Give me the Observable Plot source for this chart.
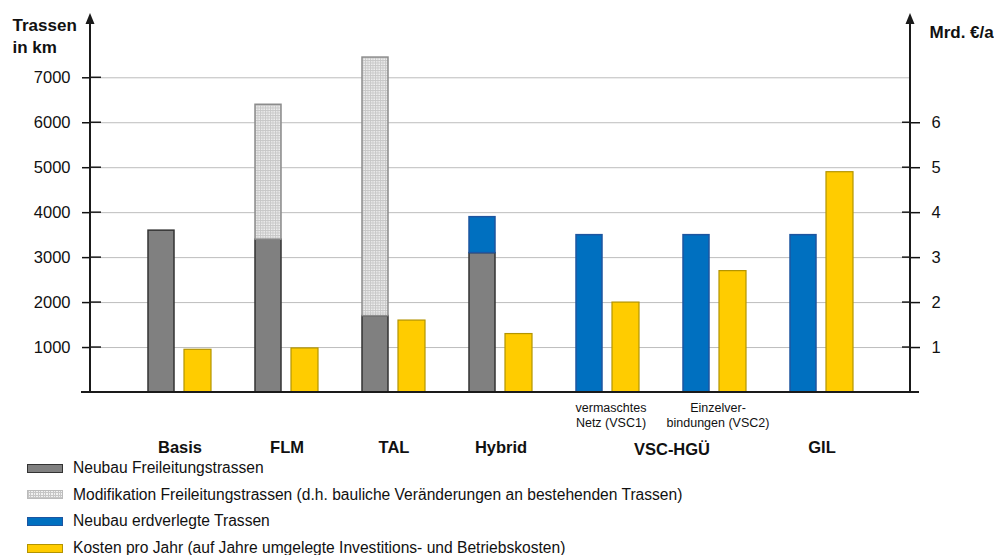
<!DOCTYPE html>
<html>
<head>
<meta charset="utf-8">
<script src="https://cdn.jsdelivr.net/npm/d3@7"></script>
<script src="https://cdn.jsdelivr.net/npm/@observablehq/plot@0.6"></script>
<style>
  html, body { margin: 0; padding: 0; background: #fff; }
  body { width: 994px; height: 555px; overflow: hidden; font-family: "Liberation Sans", Arial, sans-serif; color: #111; }
  #legend { margin-top: -1px; }
  .row { height: 26.6px; display: flex; align-items: center; font-size: 15.6px; }
  .sw { width: 34px; height: 7px; margin-left: 27px; margin-right: 10px; border: 1px solid #444; }
</style>
</head>
<body>
<div id="chart"></div>
<div id="legend"></div>
<script>
// ---- data ----
const groups = ["Basis", "FLM", "TAL", "Hybrid", "VSC1", "VSC2", "GIL"];
const neubauFrei = [3600, 3400, 1700, 3100, 0, 0, 0];        // km
const modifikation = [0, 3000, 5750, 0, 0, 0, 0];             // km
const neubauErd = [0, 0, 0, 800, 3500, 3500, 3500];           // km
const kosten = [0.95, 0.98, 1.6, 1.3, 2.0, 2.7, 4.9];         // Mrd. €/a
const leftTicks = [1000, 2000, 3000, 4000, 5000, 6000, 7000];
const rightTicks = [1, 2, 3, 4, 5, 6];
const mainLabels = ["Basis", "FLM", "TAL", "Hybrid", "GIL"];
const vscLabel = "VSC-HGÜ";
const subLabels = [
  {group: "VSC1", text: "vermaschtes\nNetz (VSC1)"},
  {group: "VSC2", text: "Einzelver-\nbindungen (VSC2)"}
];
const seriesNames = [
  "Neubau Freileitungstrassen",
  "Modifikation Freileitungstrassen (d.h. bauliche Veränderungen an bestehenden Trassen)",
  "Neubau erdverlegte Trassen",
  "Kosten pro Jahr (auf Jahre umgelegte Investitions- und Betriebskosten)"
];
const yTitle = "Trassen\nin km";
const y2Title = "Mrd. €/a";

// ---- styles ----
const fills = ["#808080", "url(#modGrid)", "#0070C0", "#FFCC00"];
const strokes = ["#333333", "#8c8c8c", "#1d55a0", "#b39400"];

// ---- tables built from the arrays ----
const kmSeries = [neubauFrei, modifikation, neubauErd];
const kmRows = [];
groups.forEach((g, i) => {
  kmSeries.forEach((arr, s) => {
    if (arr[i] > 0) kmRows.push({group: g, series: s, km: arr[i]});
  });
});
const costRows = groups.map((g, i) => ({group: g, cost: kosten[i]}));
const yMax = 8430;

function decor(index, scales, values, dims) {
  const y = scales.y;
  const xl = dims.marginLeft, xr = dims.width - dims.marginRight;
  const y0 = y(0), yTop = y(yMax);
  const g = d3.create("svg:g");
  const defs = g.append("defs");
  const p = defs.append("pattern").attr("id", "modGrid").attr("width", 2.5).attr("height", 2.5)
    .attr("patternUnits", "userSpaceOnUse");
  p.append("rect").attr("width", 2.5).attr("height", 2.5).attr("fill", "#f1f1f1");
  p.append("path").attr("d", "M0 0.5H2.5M0.5 0V2.5").attr("stroke", "#c6c6c6").attr("stroke-width", 0.9);
  const ink = "#1a1a1a";
  // baseline
  g.append("line").attr("x1", xl - 9).attr("x2", xr + 9).attr("y1", y0).attr("y2", y0)
    .attr("stroke", ink).attr("stroke-width", 2);
  // inner tick stubs
  for (const t of leftTicks) {
    g.append("line").attr("x1", xl).attr("x2", xl + 11).attr("y1", y(t)).attr("y2", y(t))
      .attr("stroke", ink).attr("stroke-width", 1.5);
  }
  for (const t of rightTicks) {
    g.append("line").attr("x1", xr - 8).attr("x2", xr).attr("y1", y(t * 1000)).attr("y2", y(t * 1000))
      .attr("stroke", ink).attr("stroke-width", 1.5);
  }
  // axis lines with arrows
  for (const x of [xl, xr]) {
    g.append("line").attr("x1", x).attr("x2", x).attr("y1", y0 + 1).attr("y2", yTop + 10)
      .attr("stroke", ink).attr("stroke-width", 2);
    g.append("path").attr("d", `M${x},${yTop}L${x - 4.5},${yTop + 11}L${x + 4.5},${yTop + 11}Z`).attr("fill", ink);
  }
  return g.node();
}

const chart = Plot.plot({
  width: 994,
  height: 456,
  marginLeft: 90,
  marginRight: 84,
  marginTop: 13,
  marginBottom: 64,
  style: {fontFamily: "'Liberation Sans', Arial, sans-serif", fontSize: "16.5px", color: "#111", background: "#fff"},
  x: {type: "band", domain: groups, paddingInner: 0, paddingOuter: 0.3, axis: null},
  y: {domain: [0, yMax]},
  color: {type: "identity"},
  marks: [
    Plot.gridY(leftTicks, {stroke: "#bdbdbd", strokeOpacity: 1, strokeWidth: 1}),
    Plot.barY(kmRows, Plot.stackY({
      x: "group", y: "km",
      fill: d => fills[d.series], stroke: d => strokes[d.series], strokeWidth: 1.5,
      insetLeft: 22, insetRight: 59
    })),
    Plot.barY(costRows, {
      x: "group", y: d => d.cost * 1000,
      fill: fills[3], stroke: strokes[3], strokeWidth: 1.2,
      insetLeft: 58, insetRight: 22
    }),
    Plot.axisY(leftTicks, {anchor: "left", tickSize: 8, tickPadding: 12, label: null,
      tickFormat: d => String(d), strokeWidth: 1.5, fontSize: 16.5}),
    Plot.axisY(rightTicks.map(t => t * 1000), {anchor: "right", tickSize: 9, tickPadding: 12, label: null,
      tickFormat: d => String(d / 1000), strokeWidth: 1.5, fontSize: 16.5}),
    Plot.text(mainLabels, {x: d => d, text: d => d, frameAnchor: "bottom", lineAnchor: "bottom", dy: 60,
      fontWeight: "bold", fontSize: 16.5}),
    Plot.text([vscLabel], {x: () => "VSC1", text: d => d, frameAnchor: "bottom", lineAnchor: "bottom", dy: 62, dx: 64,
      fontWeight: "bold", fontSize: 16.5}),
    Plot.text(subLabels, {x: "group", text: "text", frameAnchor: "bottom", lineAnchor: "top", dy: 8.5,
      lineHeight: 1.2, fontSize: 12.5, dx: 3}),
    Plot.text([yTitle], {text: d => d, frameAnchor: "top-left", textAnchor: "start", lineAnchor: "top",
      dx: -78, dy: 3, lineHeight: 1.24, fontWeight: "bold", fontSize: 17}),
    Plot.text([y2Title], {text: d => d, frameAnchor: "top-right", textAnchor: "start", lineAnchor: "top",
      dx: 19, dy: 12, fontWeight: "bold", fontSize: 17}),
    decor
  ]
});
document.getElementById("chart").appendChild(chart);

// ---- legend ----
const legend = document.getElementById("legend");
const swatchBg = [
  "#808080",
  "repeating-linear-gradient(0deg, #c6c6c6 0 1px, transparent 1px 2.5px), repeating-linear-gradient(90deg, #c6c6c6 0 1px, #f1f1f1 1px 2.5px)",
  "#0070C0",
  "#FFCC00"
];
seriesNames.forEach((name, i) => {
  const row = document.createElement("div");
  row.className = "row";
  const sw = document.createElement("span");
  sw.className = "sw";
  sw.style.background = swatchBg[i];
  sw.style.borderColor = i === 1 ? "#bbbbbb" : strokes[i];
  const t = document.createElement("span");
  t.textContent = name;
  row.appendChild(sw);
  row.appendChild(t);
  legend.appendChild(row);
});
</script>
</body>
</html>
